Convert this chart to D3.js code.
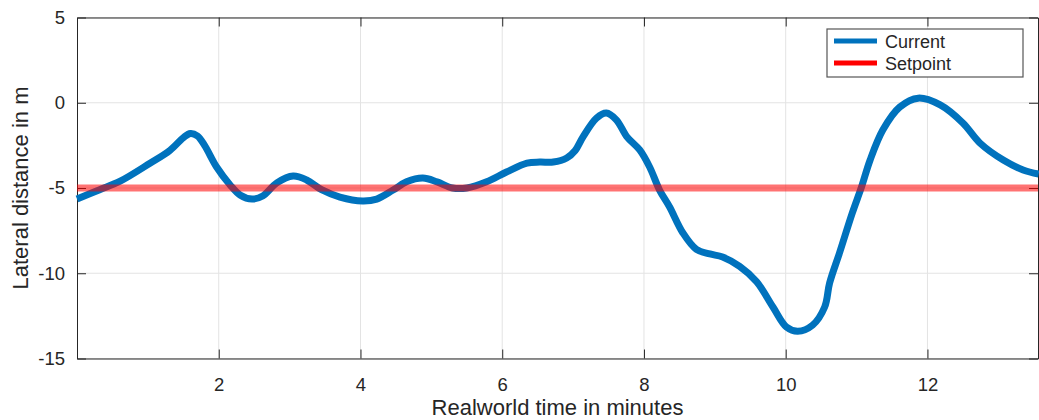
<!DOCTYPE html>
<html>
<head>
<meta charset="utf-8">
<title>Lateral distance</title>
<script src="https://cdn.jsdelivr.net/npm/d3@7"></script>
<style>
  body { margin: 0; background: #fff; }
  text { font-family: "Liberation Sans", Arial, sans-serif; fill: #262626; }
</style>
</head>
<body>
<script>
// data
var timeMinutes = [0, 0.32, 0.61, 1.03, 1.31, 1.50, 1.60, 1.70, 1.80, 1.97, 2.16, 2.30, 2.47, 2.62, 2.82, 3.05, 3.24, 3.45,
  3.71, 4.03, 4.23, 4.46, 4.65, 4.88, 5.08, 5.30, 5.50, 5.78, 6.06, 6.35, 6.53, 6.72, 6.91, 7.03, 7.14,
  7.33, 7.47, 7.61, 7.76, 7.94, 8.08, 8.22, 8.36, 8.55, 8.74, 8.93, 9.11, 9.35, 9.59, 9.82, 10.01,
  10.17, 10.38, 10.55, 10.62, 10.76, 10.94, 11.07, 11.19, 11.37, 11.61, 11.87, 12.18, 12.50, 12.74,
  13.07, 13.35, 13.57];
var lateralDistance = [-5.65, -5.1, -4.6, -3.55, -2.8, -2.05, -1.8, -1.95, -2.5, -3.77, -4.82, -5.41, -5.65, -5.47, -4.7, -4.3, -4.53, -5.1,
  -5.53, -5.76, -5.65, -5.12, -4.64, -4.42, -4.64, -5.0, -5.0, -4.64, -4.06, -3.54, -3.48, -3.48, -3.24, -2.8, -2.0,
  -0.9, -0.6, -1.0, -2.0, -2.77, -3.77, -5.12, -6.1, -7.64, -8.6, -8.87, -9.05, -9.6, -10.5, -11.98, -13.15,
  -13.4, -13.04, -11.98, -10.57, -8.8, -6.46, -4.94, -3.37, -1.6, -0.25, 0.27, -0.13, -1.19, -2.36,
  -3.36, -3.94, -4.18];
var setpoint = -5;
var xTicks = [2, 4, 6, 8, 10, 12];
var yTicks = [5, 0, -5, -10, -15];
var seriesNames = ['Current', 'Setpoint'];
var seriesColors = ['#0072bd', '#ff0000'];

var width = 1039, height = 420;
var plotLeft = 77, plotTop = 17.5, plotRight = 1038, plotBottom = 358.5;

var svg = d3.select('body').append('svg')
  .attr('width', width)
  .attr('height', height);

var x = d3.scaleLinear().domain([0, 13.56]).range([plotLeft, plotRight]);
var y = d3.scaleLinear().domain([-15, 5]).range([plotBottom, plotTop]);

// grid
svg.append('g').selectAll('line').data(xTicks).enter().append('line')
  .attr('x1', function(d) { return x(d); }).attr('x2', function(d) { return x(d); })
  .attr('y1', plotTop).attr('y2', plotBottom)
  .attr('stroke', '#e3e3e3').attr('stroke-width', 1);
svg.append('g').selectAll('line').data(yTicks).enter().append('line')
  .attr('x1', plotLeft).attr('x2', plotRight)
  .attr('y1', function(d) { return y(d); }).attr('y2', function(d) { return y(d); })
  .attr('stroke', '#e3e3e3').attr('stroke-width', 1);

// axes (ticks inward, box on)
function styleAxis(g) {
  g.select('.domain').attr('stroke', '#262626');
  g.selectAll('.tick line').attr('stroke', '#262626');
  g.selectAll('.tick text').style('font-size', '18.5px').attr('fill', '#262626');
}
var plain = function(d) { return String(d); };
svg.append('g').attr('transform', 'translate(0,' + plotBottom + ')')
  .call(d3.axisBottom(x).tickValues(xTicks).tickFormat(plain).tickSizeInner(-9).tickSizeOuter(0).tickPadding(19))
  .call(styleAxis);
svg.append('g').attr('transform', 'translate(0,' + plotTop + ')')
  .call(d3.axisTop(x).tickValues(xTicks).tickSizeInner(-9).tickSizeOuter(0).tickFormat(''))
  .call(styleAxis);
svg.append('g').attr('transform', 'translate(' + plotLeft + ',0)')
  .call(d3.axisLeft(y).tickValues(yTicks).tickFormat(plain).tickSizeInner(-9).tickSizeOuter(0).tickPadding(12))
  .call(styleAxis);
svg.append('g').attr('transform', 'translate(' + plotRight + ',0)')
  .call(d3.axisRight(y).tickValues(yTicks).tickSizeInner(-9).tickSizeOuter(0).tickFormat(''))
  .call(styleAxis);

// current
var data = timeMinutes.map(function(t, i) { return [t, lateralDistance[i]]; });
var line = d3.line()
  .x(function(d) { return x(d[0]); })
  .y(function(d) { return y(d[1]); })
  .curve(d3.curveCatmullRom.alpha(0.5));
svg.append('path').datum(data)
  .attr('d', line)
  .attr('fill', 'none')
  .attr('stroke', seriesColors[0])
  .attr('stroke-width', 7)
  .attr('stroke-linejoin', 'round');

// setpoint
svg.append('line')
  .attr('x1', x(0)).attr('x2', x(13.56))
  .attr('y1', y(setpoint)).attr('y2', y(setpoint))
  .attr('stroke', seriesColors[1])
  .attr('stroke-opacity', 0.55)
  .attr('stroke-width', 7);

// labels
svg.append('text')
  .attr('x', (plotLeft + plotRight) / 2).attr('y', 415)
  .attr('text-anchor', 'middle')
  .style('font-size', '22px')
  .text('Realworld time in minutes');
svg.append('text')
  .attr('transform', 'translate(28,' + (plotTop + plotBottom) / 2 + ') rotate(-90)')
  .attr('text-anchor', 'middle')
  .style('font-size', '22px')
  .text('Lateral distance in m');

// legend
var legend = svg.append('g').attr('transform', 'translate(827,29)');
legend.append('rect')
  .attr('width', 196).attr('height', 48)
  .attr('fill', '#fff').attr('stroke', '#555').attr('stroke-width', 1.2);
seriesNames.forEach(function(name, i) {
  var ly = 12 + i * 22;
  legend.append('line')
    .attr('x1', 7).attr('x2', 50).attr('y1', ly).attr('y2', ly)
    .attr('stroke', seriesColors[i]).attr('stroke-width', 5);
  legend.append('text')
    .attr('x', 58).attr('y', ly + 6.5)
    .style('font-size', '18px')
    .text(name);
});
</script>
</body>
</html>
